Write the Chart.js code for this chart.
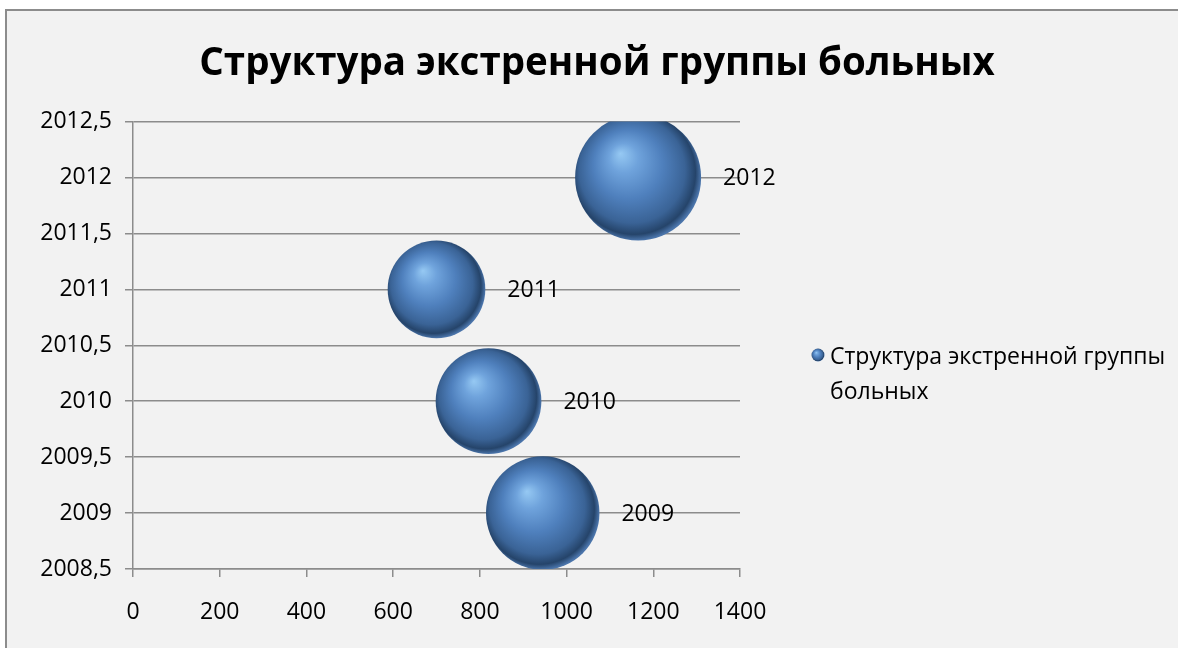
<!DOCTYPE html>
<html>
<head>
    <meta charset="utf-8">
    <title>Структура экстренной группы больных</title>
    <script src="https://cdn.jsdelivr.net/npm/chart.js"></script>
    <style>
        html, body { margin: 0; padding: 0; background: #ffffff; overflow: hidden; }
        .frame {
            position: absolute; left: 5px; top: 9px;
            width: 1180px; height: 650px;
            border-left: 2px solid #8c8c8c; border-top: 2px solid #8c8c8c;
            background: #f2f2f2;
        }
        .chart-container { position: absolute; left: 0; top: 0; width: 1171px; height: 637px; }
    </style>
</head>
<body>
    <div class="frame">
        <div class="chart-container">
            <canvas id="bubbleChart"></canvas>
        </div>
    </div>

    <script>
        // patients per year (x) and the year itself (y); bubble size uses the same counts
        const years = [2009, 2010, 2011, 2012];
        const patients = [945, 820, 700, 1165];
        const bubbleSizes = [945, 820, 700, 1165];
        const pointLabels = ['2009', '2010', '2011', '2012'];
        const xTicks = [0, 200, 400, 600, 800, 1000, 1200, 1400];
        const seriesName = 'Структура экстренной группы больных';
        const legendLines = ['Структура экстренной группы', 'больных'];

        const FONT = '"Open Sans", sans-serif';
        const MAX_RADIUS = 63;
        const maxSize = Math.max(...bubbleSizes);

        function radiusFor(i) {
            return Math.sqrt(bubbleSizes[i] / maxSize) * MAX_RADIUS;
        }

        // glossy sphere fill
        function sphereGradient(ctx, cx, cy, r) {
            const g = ctx.createRadialGradient(cx - r * 0.28, cy - r * 0.38, 0, cx - r * 0.05, cy - r * 0.05, r * 1.05);
            g.addColorStop(0, '#96c9f3');
            g.addColorStop(0.22, '#6fa3dc');
            g.addColorStop(0.52, '#4f80bd');
            g.addColorStop(0.8, '#3a6396');
            g.addColorStop(0.93, '#25446a');
            g.addColorStop(1, '#4a74aa');
            return g;
        }

        const bubbleData = years.map((y, i) => ({ x: patients[i], y: y, r: radiusFor(i) }));

        const labelPlugin = {
            id: 'bubbleLabels',
            afterDatasetsDraw(chart) {
                const ctx = chart.ctx;
                const meta = chart.getDatasetMeta(0);
                ctx.save();
                ctx.font = '23px ' + FONT;
                ctx.fillStyle = '#000000';
                ctx.textAlign = 'left';
                ctx.textBaseline = 'middle';
                meta.data.forEach((el, i) => {
                    ctx.fillText(pointLabels[i], el.x + radiusFor(i) + 22, el.y + 1);
                });
                ctx.restore();
            },
            afterDraw(chart) {
                const ctx = chart.ctx;
                ctx.save();
                // chart title, centred over the whole frame
                ctx.font = 'bold 38.5px ' + FONT;
                ctx.fillStyle = '#000000';
                ctx.textAlign = 'center';
                ctx.textBaseline = 'middle';
                ctx.fillText(seriesName, 590, 53);

                // series legend on the right, wrapped over two lines
                const mx = 811, my = 344, mr = 6.5;
                ctx.fillStyle = sphereGradient(ctx, mx, my, mr);
                ctx.beginPath();
                ctx.arc(mx, my, mr, 0, Math.PI * 2);
                ctx.fill();
                ctx.font = '23px ' + FONT;
                ctx.fillStyle = '#000000';
                ctx.textAlign = 'left';
                legendLines.forEach((line, i) => {
                    ctx.fillText(line, 823, 346 + i * 35);
                });
                ctx.restore();
            }
        };

        const ctx = document.getElementById('bubbleChart').getContext('2d');
        const chart = new Chart(ctx, {
            type: 'bubble',
            data: {
                datasets: [{
                    label: seriesName,
                    data: bubbleData,
                    borderWidth: 0,
                    hoverBorderWidth: 0,
                    backgroundColor: (c) => {
                        const chart = c.chart;
                        if (!chart.chartArea || !c.raw) return '#4f80bd';
                        const px = chart.scales.x.getPixelForValue(c.raw.x);
                        const py = chart.scales.y.getPixelForValue(c.raw.y);
                        return sphereGradient(chart.ctx, px, py, c.raw.r);
                    }
                }]
            },
            options: {
                responsive: true,
                maintainAspectRatio: false,
                animation: false,
                layout: { padding: { left: 0, right: 438, top: 110.5, bottom: 0 } },
                plugins: {
                    legend: { display: false },
                    tooltip: { enabled: false },
                    title: { display: false }
                },
                scales: {
                    x: {
                        type: 'linear',
                        min: 0,
                        max: 1400,
                        afterBuildTicks: (s) => { s.ticks = xTicks.map(v => ({ value: v })); },
                        afterFit: (s) => { s.height = 79; },
                        grid: { drawOnChartArea: false, drawTicks: true, tickLength: 8, color: '#8c8c8c', lineWidth: 1.5 },
                        border: { display: true, color: '#8c8c8c', width: 1.5 },
                        ticks: {
                            color: '#000000',
                            padding: 22,
                            font: { family: FONT, size: 23 },
                            callback: (v) => String(v)
                        }
                    },
                    y: {
                        type: 'linear',
                        min: 2008.5,
                        max: 2012.5,
                        afterFit: (s) => { s.width = 126; },
                        grid: { drawOnChartArea: true, drawTicks: true, tickLength: 8, color: '#8c8c8c', lineWidth: 1.5 },
                        border: { display: true, color: '#8c8c8c', width: 1.5 },
                        ticks: {
                            stepSize: 0.5,
                            color: '#000000',
                            padding: 13,
                            font: { family: FONT, size: 23 },
                            callback: (v) => String(v).replace('.', ',')
                        }
                    }
                }
            },
            plugins: [labelPlugin]
        });
    </script>
</body>
</html>
